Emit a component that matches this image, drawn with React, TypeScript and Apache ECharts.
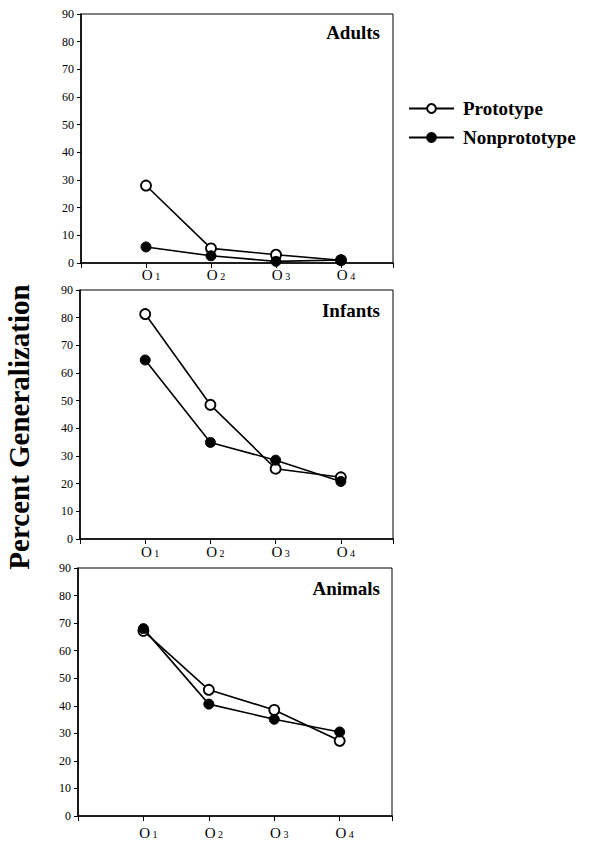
import React, { useEffect, useRef } from "react";
import * as echarts from "echarts";

const categories = ["1", "2", "3", "4"];
const panelTitles = ["Adults", "Infants", "Animals"];
const seriesNames = ["Prototype", "Nonprototype"];
const yTicks = [0, 10, 20, 30, 40, 50, 60, 70, 80, 90];

const adultsPrototype = [28, 5.3, 3, 1];
const adultsNonprototype = [5.8, 2.6, 0.6, 1.1];
const infantsPrototype = [81.3, 48.5, 25.4, 22.3];
const infantsNonprototype = [64.7, 34.9, 28.5, 20.8];
const animalsPrototype = [67.2, 45.8, 38.5, 27.3];
const animalsNonprototype = [68, 40.6, 35.1, 30.5];

const panels = [
  { title: panelTitles[0], proto: adultsPrototype, non: adultsNonprototype },
  { title: panelTitles[1], proto: infantsPrototype, non: infantsNonprototype },
  { title: panelTitles[2], proto: animalsPrototype, non: animalsNonprototype },
];

const FONT = "'Liberation Serif', 'Times New Roman', serif";

export default function App() {
  const ref = useRef<HTMLDivElement>(null);
  useEffect(() => {
    if (!ref.current) return;
    const chart = echarts.init(ref.current, undefined, { renderer: "svg" });
    const grids = [
      { left: 81, top: 14, width: 312, height: 249 },
      { left: 80, top: 290, width: 313, height: 249 },
      { left: 78, top: 568, width: 314, height: 248 },
    ];
    const labelMargins = [4, 5, 9];
    const titleTops = [23, 301, 579];

    const xAxes = grids.map((_, i) => ({
      type: "value",
      gridIndex: i,
      min: 0,
      max: 4.8,
      interval: 1,
      splitLine: { show: false },
      axisLine: { show: true, lineStyle: { color: "#000", width: 1.6 } },
      axisTick: {
        show: true,
        inside: false,
        length: 5,
        lineStyle: { color: "#000", width: 1 },
      },
      axisLabel: {
        margin: labelMargins[i],
        color: "#000",
        padding: [0, 0, 0, 10],
        formatter: (v: number) => {
          const idx = Math.round(v) - 1;
          if (Math.abs(v - Math.round(v)) > 1e-6 || idx < 0 || idx >= categories.length) return "";
          return "{o|O}{n| " + categories[idx] + "}";
        },
        rich: {
          o: { fontFamily: FONT, fontSize: 15, color: "#000" },
          n: { fontFamily: FONT, fontSize: 10, color: "#000", padding: [3, 0, 0, 0] },
        },
      },
    }));

    const yAxes = grids.map((_, i) => ({
      type: "value",
      gridIndex: i,
      min: yTicks[0],
      max: yTicks[yTicks.length - 1],
      interval: yTicks[1] - yTicks[0],
      splitLine: { show: false },
      axisLine: { show: true, lineStyle: { color: "#000", width: 1.6 } },
      axisTick: { show: true, length: 4, lineStyle: { color: "#000", width: 1 } },
      axisLabel: {
        margin: 7,
        color: "#000",
        fontFamily: FONT,
        fontSize: 12,
      },
    }));

    const series: any[] = [];
    panels.forEach((p, i) => {
      series.push({
        name: seriesNames[0],
        type: "line",
        xAxisIndex: i,
        yAxisIndex: i,
        data: p.proto.map((v, k) => [k + 1, v]),
        symbol: "circle",
        symbolSize: 10,
        z: 3,
        lineStyle: { color: "#000", width: 1.6 },
        itemStyle: { color: "#fff", borderColor: "#000", borderWidth: 1.8 },
      });
      series.push({
        name: seriesNames[1],
        type: "line",
        xAxisIndex: i,
        yAxisIndex: i,
        data: p.non.map((v, k) => [k + 1, v]),
        symbol: "circle",
        symbolSize: 10,
        z: 4,
        lineStyle: { color: "#000", width: 1.6 },
        itemStyle: { color: "#000", borderColor: "#000", borderWidth: 1 },
      });
    });

    chart.setOption({
      animation: false,
      backgroundColor: "#fff",
      grid: grids.map((g) => ({
        ...g,
        show: true,
        borderColor: "#000",
        borderWidth: 1,
        backgroundColor: "transparent",
      })),
      xAxis: xAxes,
      yAxis: yAxes,
      title: panels.map((p, i) => ({
        text: p.title,
        right: 215,
        top: titleTops[i],
        padding: 0,
        textStyle: { fontFamily: FONT, fontSize: 19, fontWeight: "bold", color: "#000" },
      })),
      legend: {
        data: seriesNames,
        orient: "vertical",
        left: 408,
        top: 99,
        itemWidth: 45,
        itemHeight: 11,
        itemGap: 10,
        padding: 0,
        textStyle: { fontFamily: FONT, fontSize: 19, fontWeight: "bold", color: "#000", padding: [0, 0, 0, 4] },
      },
      graphic: [
        {
          type: "text",
          x: 19,
          y: 427,
          rotation: Math.PI / 2,
          style: {
            text: "Percent Generalization",
            fontFamily: FONT,
            fontSize: 29,
            fontWeight: "bold",
            fill: "#000",
            align: "center",
            verticalAlign: "middle",
          },
        },
      ],
      series,
    });
    return () => chart.dispose();
  }, []);
  return (
    <div
      ref={ref}
      style={{ position: "fixed", left: 0, top: 0, width: 595, height: 841, background: "#fff" }}
    />
  );
}
